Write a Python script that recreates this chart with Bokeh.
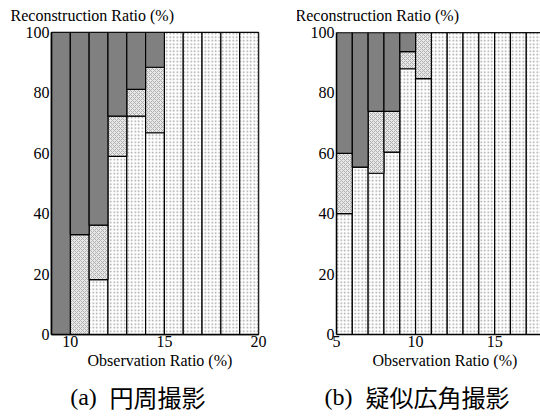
import numpy as np
from bokeh.plotting import figure
from bokeh.layouts import row, column
from bokeh.models import Span, FixedTicker, Range1d, Title
from bokeh.core.properties import value
from bokeh.embed import file_html
from bokeh.resources import INLINE

# ---- data: panel (a) 円周撮影 ----
obs_a = [9, 10, 11, 12, 13, 14, 15, 16, 17, 18, 19]          # bar left edges (%)
dot_a = [0, 0, 18.2, 59.0, 72.3, 66.8, 100, 100, 100, 100, 100]
chk_a = [0, 33.1, 18.0, 13.3, 8.9, 21.7, 0, 0, 0, 0, 0]
dark_a = [100, 66.9, 63.8, 27.7, 18.8, 11.5, 0, 0, 0, 0, 0]
xticks_a = [10, 15, 20]

# ---- data: panel (b) 疑似広角撮影 ----
obs_b = [5, 6, 7, 8, 9, 10, 11, 12, 13, 14, 15, 16, 17, 18, 19]
dot_b = [40.0, 55.4, 53.4, 60.4, 88.0, 84.7, 100, 100, 100, 100, 100, 100, 100, 100, 100]
chk_b = [20.0, 0, 20.5, 13.5, 5.7, 15.3, 0, 0, 0, 0, 0, 0, 0, 0, 0]
dark_b = [40.0, 44.6, 26.1, 26.1, 6.3, 0, 0, 0, 0, 0, 0, 0, 0, 0, 0]
xticks_b = [5, 10, 15]
yticks = [0, 20, 40, 60, 80, 100]

ylabel = "Reconstruction Ratio (%)"
xlabel = "Observation Ratio (%)"
cap_tags = ["(a)", "(b)"]
cap_texts = ["円周撮影", "疑似広角撮影"]

SERIF = "Liberation Serif"
CJK = "Noto Sans CJK JP"


def panel(xs, dot, chk, dark, xr, xticks, fw, bl, br, outline):
    p = figure(frame_width=fw, frame_height=302, x_range=Range1d(*xr),
               y_range=Range1d(0, 100), output_backend="svg", toolbar_location=None,
               min_border_left=bl, min_border_right=br, min_border_top=32,
               min_border_bottom=40)
    p.xgrid.visible = False
    p.ygrid.visible = False
    if outline:
        p.outline_line_color = "black"
        p.outline_line_width = 1.5
    else:
        p.outline_line_color = None
        p.add_layout(Span(location=100, dimension="width", line_color="black",
                          line_width=1.5))
    xs = np.array(xs, dtype=float)
    d = np.array(dot); c = np.array(chk); k = np.array(dark)
    left, right = xs, xs + 1
    common = dict(line_color="black", line_width=1.2)
    p.quad(left=left, right=right, bottom=0, top=d, fill_color="white",
           hatch_pattern="dot", hatch_color="#a0a0a0", hatch_scale=3.5,
           hatch_weight=1, **common)
    p.quad(left=left, right=right, bottom=d, top=d + c, fill_color="#e8e8e8",
           hatch_pattern="diagonal_cross", hatch_color="#b0b0b0", hatch_scale=4,
           hatch_weight=1, **common)
    p.quad(left=left, right=right, bottom=d + c, top=d + c + k, fill_color="#808080",
           **common)
    for ax in (p.xaxis[0], p.yaxis[0]):
        ax.axis_line_width = 1.5
        ax.axis_line_color = "black"
        ax.major_tick_out = 0
        ax.major_tick_in = 0
        ax.minor_tick_out = 0
        ax.minor_tick_in = 0
        ax.major_label_text_font = SERIF
        ax.major_label_text_font_size = "16px"
        ax.major_label_text_color = "black"
    p.xaxis.ticker = FixedTicker(ticks=xticks)
    p.yaxis.ticker = FixedTicker(ticks=yticks)
    p.xaxis.major_label_standoff = 1
    p.yaxis.major_label_standoff = 2
    p.add_layout(Title(text=ylabel, align="left", offset=-41, standoff=13,
                       vertical_align="top",
                       text_font=SERIF, text_font_size="16px",
                       text_font_style="normal", text_color="black"), "above")
    p.add_layout(Title(text=xlabel, align="left", offset=36, standoff=1,
                       text_font=SERIF, text_font_size="16px",
                       text_font_style="normal", text_color="black"), "below")
    return p


p1 = panel(obs_a, dot_a, chk_a, dark_a, (9, 20), xticks_a, 207, 51, 39, True)
p2 = panel(obs_b, dot_b, chk_b, dark_b, (5, 17.9), xticks_b, 204, 39, 0, False)

# caption strip (pixel-like coordinates for text placement)
cap = figure(width=540, height=43, x_range=Range1d(0, 540), y_range=Range1d(0, 43),
             output_backend="svg", toolbar_location=None, min_border=0)
cap.axis.visible = False
cap.grid.visible = False
cap.outline_line_color = None
cap.text(x=[83, 338], y=[21, 21], text=cap_tags, text_font=value(SERIF),
         text_font_size="24px", text_align="center", text_baseline="middle",
         text_color="black")
cap.text(x=[157, 437], y=[21, 21], text=cap_texts, text_font=value(CJK),
         text_font_size="24px", text_align="center", text_baseline="middle",
         text_color="black")

layout = column(row(p1, p2), cap)
open("out.html", "w").write(file_html(layout, INLINE))
